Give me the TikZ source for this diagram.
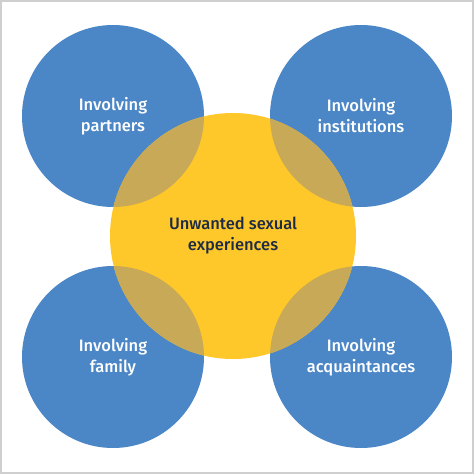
\documentclass[tikz,border=0pt]{standalone}
\usepackage{fontspec}
\setmainfont{Fira Sans}[UprightFont=* Medium]
\definecolor{sideblue}{HTML}{4B86C6}
\definecolor{midyellow}{HTML}{FEC72A}
\definecolor{mixtan}{HTML}{C8A957}
\definecolor{darknavy}{HTML}{1E2B45}
\definecolor{framegray}{HTML}{CFCFCF}

\begin{document}
\begin{tikzpicture}[x=1pt, y=-1pt,
  side/.style={circle, fill=sideblue, minimum size=182pt, inner sep=0pt,
    text=white, align=center, font=\fontsize{16.5}{21}\selectfont},
  core/.style={circle, fill=midyellow, minimum size=246pt, inner sep=0pt,
    text=darknavy, align=center, font=\fontsize{16.5}{21}\selectfont}]

  \useasboundingbox (0,0) rectangle (474,474);
  \draw[framegray, line width=2pt] (1,1) rectangle (473,473);

  % four blue circles in the corners
  \node[side] (partners)      at (113,116) {Involving\\partners};
  \node[side] (institutions)  at (361,116) {Involving\\institutions};
  \node[side] (family)        at (113,357) {Involving\\family};
  \node[side] (acquaintances) at (361,357) {Involving\\acquaintances};

  % yellow circle in the middle
  \node[core] (unwanted) at (233,236) {};

  % overlaps
  \begin{scope}
    \clip (unwanted.center) circle[radius=123pt];
    \foreach \c in {partners, institutions, family, acquaintances}
      \fill[mixtan] (\c.center) circle[radius=91pt];
  \end{scope}

  \node[text=darknavy, align=center, font=\fontsize{16.5}{21}\selectfont]
    (unwantedtext) at (unwanted.center) {Unwanted sexual\\experiences};
\end{tikzpicture}
\end{document}
